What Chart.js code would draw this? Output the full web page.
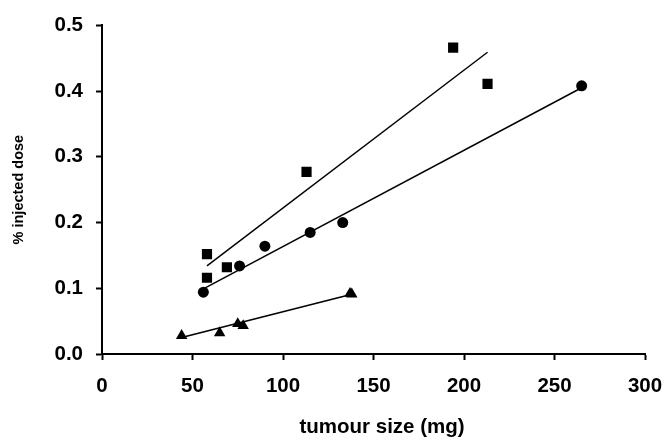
<!DOCTYPE html>
<html>
<head>
<meta charset="utf-8">
<script src="https://cdn.jsdelivr.net/npm/chart.js@4/dist/chart.umd.min.js"></script>
<style>
  html, body { margin: 0; padding: 0; background: #fff; }
  canvas { display: block; }
</style>
</head>
<body>
<canvas id="c" width="666" height="441"></canvas>
<script>
// Data
const squareX = [58, 58, 69, 113, 194, 213];
const squareY = [0.152, 0.116, 0.132, 0.277, 0.466, 0.411];
const circleX = [56, 76, 90, 115, 133, 265];
const circleY = [0.094, 0.134, 0.164, 0.185, 0.200, 0.408];
const triangleX = [44, 65, 75, 78, 137, 138];
const triangleY = [0.028, 0.032, 0.046, 0.043, 0.092, 0.091];

// Trend line end points
const squareFitX = [58, 213];
const squareFitY = [0.134, 0.459];
const circleFitX = [56, 265];
const circleFitY = [0.099, 0.405];
const triangleFitX = [44, 138];
const triangleFitY = [0.025, 0.091];

const xTicks = [0, 50, 100, 150, 200, 250, 300];
const yTicks = [0.0, 0.1, 0.2, 0.3, 0.4, 0.5];
const xTitle = 'tumour size (mg)';
const yTitle = '% injected dose';

const toPts = (xs, ys) => xs.map((x, i) => ({ x: x, y: ys[i] }));

const FONT = 'Liberation Sans, Arial, Helvetica, sans-serif';

function markers(xs, ys, style, r) {
  return {
    type: 'scatter',
    data: toPts(xs, ys),
    pointStyle: style,
    pointRadius: r,
    pointHoverRadius: r,
    backgroundColor: '#000',
    borderColor: '#000',
    borderWidth: 0,
    showLine: false,
    order: 1
  };
}
function fitLine(xs, ys) {
  return {
    type: 'line',
    data: toPts(xs, ys),
    borderColor: '#000',
    borderWidth: 1.5,
    pointRadius: 0,
    pointHoverRadius: 0,
    fill: false,
    tension: 0,
    order: 2
  };
}

new Chart(document.getElementById('c'), {
  type: 'scatter',
  data: {
    datasets: [
      fitLine(squareFitX, squareFitY),
      fitLine(circleFitX, circleFitY),
      fitLine(triangleFitX, triangleFitY),
      markers(squareX, squareY, 'rect', 7.2),
      markers(circleX, circleY, 'circle', 5.5),
      markers(triangleX, triangleY, 'triangle', 6.6)
    ]
  },
  options: {
    responsive: false,
    animation: false,
    layout: { padding: { top: 23, right: 21, bottom: 0, left: 0 } },
    plugins: {
      legend: { display: false },
      tooltip: { enabled: false }
    },
    scales: {
      x: {
        type: 'linear',
        min: 0,
        max: 300,
        afterBuildTicks: (s) => { s.ticks = xTicks.map(v => ({ value: v })); },
        afterFit: (s) => { s.height = 87; s.paddingLeft = 0; s.paddingRight = 0; },
        ticks: {
          color: '#000',
          font: { family: FONT, size: 20.5, weight: 'bold' },
          padding: 14,
          maxRotation: 0,
          autoSkip: false,
          callback: (v) => String(v)
        },
        grid: {
          display: true,
          drawOnChartArea: false,
          drawTicks: true,
          tickLength: 6,
          tickWidth: 2,
          tickColor: '#000'
        },
        border: { display: true, color: '#000', width: 2 },
        title: {
          display: true,
          text: '\u00a0\u00a0\u00a0' + xTitle,
          color: '#000',
          font: { family: FONT, size: 20.5, weight: 'bold' },
          padding: { top: 0, bottom: 1 }
        }
      },
      y: {
        type: 'linear',
        min: 0,
        max: 0.5,
        afterBuildTicks: (s) => { s.ticks = yTicks.map(v => ({ value: v })); },
        afterFit: (s) => { s.width = 102; },
        ticks: {
          color: '#000',
          font: { family: FONT, size: 20.5, weight: 'bold' },
          padding: 13,
          autoSkip: false,
          callback: (v) => Number(v).toFixed(1)
        },
        grid: {
          display: true,
          drawOnChartArea: false,
          drawTicks: true,
          tickLength: 6,
          tickWidth: 2,
          tickColor: '#000'
        },
        border: { display: true, color: '#000', width: 2 },
        title: {
          display: true,
          text: yTitle,
          color: '#000',
          font: { family: FONT, size: 14.5, weight: 'bold' },
          padding: { top: 10, bottom: 0 }
        }
      }
    }
  }
});
</script>
</body>
</html>
